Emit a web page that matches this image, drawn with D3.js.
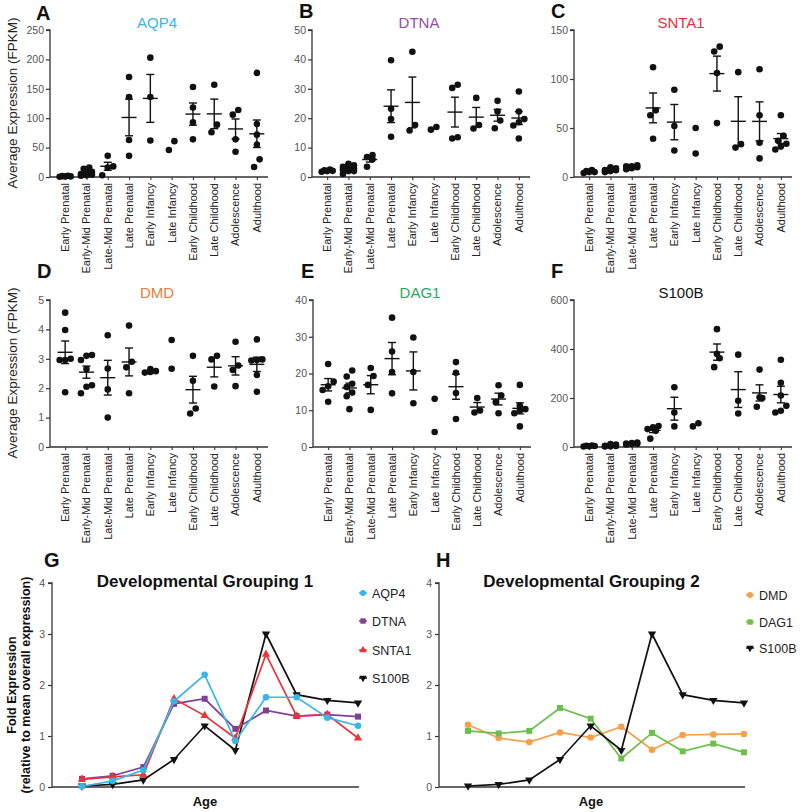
<!DOCTYPE html>
<html><head><meta charset="utf-8">
<script src="https://cdn.jsdelivr.net/npm/d3@7"></script>
<style>body{margin:0;background:#fff} svg{font-family:"Liberation Sans",Arial,sans-serif}</style>
</head><body><svg id="c" width="800" height="812"></svg>
<script>
// ---------- DATA ----------
const categories = ["Early Prenatal","Early-Mid Prenatal","Late-Mid Prenatal","Late Prenatal","Early Infancy","Late Infancy","Early Childhood","Late Childhood","Adolescence","Adulthood"];

const aqp4Values  = [[0.5,1,1.5,2,1],[2,3,4,5,7,9,14,16],[36,18,16,3],[170,136,63,36],[203,136,62],[46,61],[153,118,93,64],[157,89,76],[114,106,64,43],[177,90,72,55,30,17]];
const dtnaValues  = [[2.5,2,1.8,2.3,2.1],[1,2,2.5,3,3.5,4,4.5,3,2,4],[7.5,6.8,6,3.5],[39.7,23.2,19.7,13.7],[42.6,17.7,15.8],[16.1,17],[31.4,30.3,13.1,13.5],[26.9,17.7,16.5],[25.9,22.3,19.2,16.6],[29.1,22.3,19.7,18.6,17.5,13.1]];
const snta1Values = [[7,5,4,6,5],[9,7,6,8,5,10,7],[12,10,11,9,8,11],[112,68,63,39],[89,52,27],[50,24],[128,133,106,55],[107,30,33.5],[110,63,35,19],[63,42,37,34,31,28]];
const dmdValues   = [[4.57,3.98,3.0,2.96,2.96,1.86],[3.13,3.1,2.96,2.65,2.1,2.05,1.83],[3.8,2.67,1.96,1.0],[4.13,2.9,2.71,1.83],[2.65,2.58,2.53,2.55],[3.64,2.66],[3.1,2.25,1.31,1.14],[3.1,2.98,2.06],[3.58,2.77,2.62,2.07],[3.66,2.98,2.96,2.94,2.45,1.88]];
const dag1Values  = [[22.6,17.8,16.5,15.5,12.3],[20.8,19.2,17.2,16.3,14.8,13.8,10.3],[21.5,19.3,16.9,10.1],[35.2,26,20.4,14.6],[29.8,20.4,11.9],[13.1,4.1],[23.1,20.2,14.7,7.6],[13.3,9.4,9.9],[16.8,14.0,12.2,9.2],[16.9,11.2,10.3,9.9,9.2,5.6]];
const s100bValues = [[3,5,2,4,6],[10,5,3,8,2,12,4],[10,14,13,16,18,12],[86,80,73,66,34],[244,141,84],[84,97],[481,380,362,326],[377,189,137],[316,203,200,164],[356,262,210,168,141,148]];

const ticksA = [0,50,100,150,200,250];
const ticksB = [0,10,20,30,40,50];
const ticksC = [0,50,100,150];
const ticksD = [0,1,2,3,4,5];
const ticksE = [0,10,20,30,40];
const ticksF = [0,200,400,600];
const ticksFold = [0,1,2,3,4];

const foldAQP4  = [0.01,0.12,0.33,1.68,2.2,0.9,1.76,1.76,1.36,1.2];
const foldDTNA  = [0.16,0.22,0.39,1.63,1.73,1.14,1.5,1.39,1.42,1.38];
const foldSNTA1 = [0.15,0.2,0.24,1.73,1.4,0.96,2.6,1.39,1.42,0.96];
const foldS100B = [0.02,0.05,0.14,0.54,1.2,0.72,3.0,1.81,1.7,1.65];
const foldDMD   = [1.22,0.96,0.88,1.07,0.97,1.18,0.73,1.02,1.03,1.04];
const foldDAG1  = [1.1,1.05,1.1,1.55,1.34,0.56,1.06,0.7,0.85,0.68];

// ---------- DRAW ----------
const svg = d3.select("#c");
const AX = "#333", TICKTXT = "#555";

const panels = [
  {L:"A", gene:"AQP4",  color:"#3cb4e2", vals:aqp4Values,  ticks:ticksA, ax:50,  top:30,  bot:177, lx:36,  ly:20},
  {L:"B", gene:"DTNA",  color:"#8e4fa6", vals:dtnaValues,  ticks:ticksB, ax:312, top:30,  bot:177, lx:299, ly:18},
  {L:"C", gene:"SNTA1", color:"#e2323f", vals:snta1Values, ticks:ticksC, ax:574, top:30,  bot:177, lx:551, ly:18},
  {L:"D", gene:"DMD",   color:"#ee7b3b", vals:dmdValues,   ticks:ticksD, ax:50,  top:300, bot:447, lx:37,  ly:278},
  {L:"E", gene:"DAG1",  color:"#2aa862", vals:dag1Values,  ticks:ticksE, ax:313, top:300, bot:447, lx:301, ly:278},
  {L:"F", gene:"S100B", color:"#111",    vals:s100bValues, ticks:ticksF, ax:574, top:300, bot:447, lx:551, ly:278}
];

function swarm(vals, y, cx) {
  const step = 5.5, thr = 9, maxRow = 3;
  const idx = vals.map((v,i)=>i).sort((a,b)=>vals[a]-vals[b]);
  const pos = new Array(vals.length);
  let row = [];
  const flush = () => { const n=row.length; row.forEach((i,k)=>{pos[i]=[cx+(k-(n-1)/2)*step, y(vals[i])];}); row=[]; };
  idx.forEach(i => {
    if (row.length && (Math.abs(y(vals[i])-y(vals[row[0]]))>thr || row.length>=maxRow)) flush();
    row.push(i);
  });
  flush();
  return pos;
}

panels.forEach(p => {
  const g = svg.append("g");
  const x = d3.scalePoint().domain(categories).range([p.ax+4.5+10.65, p.ax+4.5+213-10.65]);
  const y = d3.scaleLinear().domain([0, d3.max(p.ticks)]).range([p.bot, p.top]);
  const xEnd = p.ax + 218;

  const ya = g.append("g").attr("transform",`translate(${p.ax},0)`)
    .call(d3.axisLeft(y).tickValues(p.ticks).tickSize(4).tickPadding(2).tickFormat(d3.format("d")));
  ya.select(".domain").attr("stroke",AX).attr("stroke-width",1.3).attr("d",`M-4,${p.top}H0V${p.bot}`);
  ya.selectAll(".tick line").attr("stroke",AX).attr("stroke-width",1.2);
  ya.selectAll(".tick text").attr("fill",TICKTXT).style("font-size","10.5px").style("font-family","Liberation Sans, Arial, sans-serif");

  const xa = g.append("g").attr("transform",`translate(0,${p.bot})`)
    .call(d3.axisBottom(x).tickSize(3).tickFormat(""));
  xa.select(".domain").attr("stroke",AX).attr("stroke-width",1.3).attr("d",`M${p.ax},0H${xEnd}`);
  xa.selectAll(".tick line").attr("stroke",AX).attr("stroke-width",1.1);
  categories.forEach(c => {
    g.append("text").attr("transform",`translate(${x(c)},${p.bot+6}) rotate(-90)`)
      .attr("text-anchor","end").attr("dy","0.35em").attr("fill","#222")
      .style("font-size","11px").text(c);
  });

  p.vals.forEach((vals, ci) => {
    const cx = x(categories[ci]);
    const pos = swarm(vals, y, cx);
    g.selectAll(null).data(pos).enter().append("circle")
      .attr("cx",d=>d[0]).attr("cy",d=>d[1]).attr("r",3.3).attr("fill","#111");
    if (vals.length >= 3) {
      const m = d3.mean(vals), sem = d3.deviation(vals)/Math.sqrt(vals.length);
      const eb = g.append("g").attr("stroke","#111").attr("stroke-width",1.4);
      eb.append("line").attr("x1",cx).attr("x2",cx).attr("y1",y(m-sem)).attr("y2",y(m+sem));
      eb.append("line").attr("x1",cx-4).attr("x2",cx+4).attr("y1",y(m-sem)).attr("y2",y(m-sem));
      eb.append("line").attr("x1",cx-4).attr("x2",cx+4).attr("y1",y(m+sem)).attr("y2",y(m+sem));
      eb.append("line").attr("x1",cx-7.5).attr("x2",cx+7.5).attr("y1",y(m)).attr("y2",y(m));
    }
  });

  g.append("text").attr("x",p.ax+107).attr("y",p.top-2).attr("text-anchor","middle")
    .attr("fill",p.color).style("font-size","15px").text(p.gene);
  g.append("text").attr("x",p.lx).attr("y",p.ly).attr("fill","#111")
    .style("font-size","20px").style("font-weight","bold").text(p.L);
});

[103, 373].forEach(cy => {
  svg.append("text").attr("transform",`translate(17,${cy}) rotate(-90)`).attr("text-anchor","middle")
    .attr("fill","#222").style("font-size","13.5px").text("Average Expression (FPKM)");
});

// ---------- LINE PANELS ----------
const linePanels = [
  {L:"G", title:"Developmental Grouping 1", ax:52, x0:82, x1:358, lx:44, legX:363,
   series:[
     {name:"S100B", vals:foldS100B, color:"#111", sym:"tri", flip:true},
     {name:"DTNA",  vals:foldDTNA,  color:"#7e3f98", sym:"sq"},
     {name:"SNTA1", vals:foldSNTA1, color:"#e8343b", sym:"tri"},
     {name:"AQP4",  vals:foldAQP4,  color:"#39b6e8", sym:"circ"}
   ], legendOrder:["AQP4","DTNA","SNTA1","S100B"], legY:[593,621,650,678]},
  {L:"H", title:"Developmental Grouping 2", ax:439, x0:468, x1:744, lx:436, legX:750,
   series:[
     {name:"DMD",   vals:foldDMD,   color:"#f4a04c", sym:"circ"},
     {name:"DAG1",  vals:foldDAG1,  color:"#6cbf4c", sym:"sq"},
     {name:"S100B", vals:foldS100B, color:"#111", sym:"tri", flip:true}
   ], legendOrder:["DMD","DAG1","S100B"], legY:[595,622,648]}
];

const symType = {circ:d3.symbolCircle, sq:d3.symbolSquare, tri:d3.symbolTriangle};
const symSize = {circ:34, sq:36, tri:30};

linePanels.forEach(p => {
  const g = svg.append("g");
  const top = 583, bot = 787;
  const x = d3.scalePoint().domain(categories).range([p.x0, p.x1]);
  const y = d3.scaleLinear().domain([0,4]).range([bot, top]);

  const ya = g.append("g").attr("transform",`translate(${p.ax},0)`)
    .call(d3.axisLeft(y).tickValues(ticksFold).tickSize(4).tickPadding(3).tickFormat(d3.format("d")));
  ya.select(".domain").attr("stroke",AX).attr("stroke-width",1.3).attr("d",`M-4,${top}H0V${bot}`);
  ya.selectAll(".tick line").attr("stroke",AX).attr("stroke-width",1.2);
  ya.selectAll(".tick text").attr("fill",TICKTXT).style("font-size","10.5px").style("font-family","Liberation Sans, Arial, sans-serif");
  g.append("line").attr("x1",p.ax).attr("x2",p.x1+1).attr("y1",bot).attr("y2",bot).attr("stroke",AX).attr("stroke-width",1.3);

  const line = d3.line().x((d,i)=>x(categories[i])).y(d=>y(d));
  p.series.forEach(s => {
    g.append("path").attr("d",line(s.vals)).attr("fill","none").attr("stroke",s.color).attr("stroke-width",1.7);
    g.selectAll(null).data(s.vals).enter().append("path")
      .attr("d",d3.symbol().type(symType[s.sym]).size(symSize[s.sym]))
      .attr("transform",(d,i)=>`translate(${x(categories[i])},${y(d)})${s.flip?" rotate(180)":""}`)
      .attr("fill",s.color);
  });

  p.legendOrder.forEach((name, k) => {
    const s = p.series.find(t=>t.name===name);
    const ly = p.legY[k];
    g.append("line").attr("x1",p.legX-4).attr("x2",p.legX+4).attr("y1",ly).attr("y2",ly).attr("stroke",s.color).attr("stroke-width",1.5);
    g.append("path").attr("d",d3.symbol().type(symType[s.sym]).size(symSize[s.sym]*0.8))
      .attr("transform",`translate(${p.legX},${ly})${s.flip?" rotate(180)":""}`).attr("fill",s.color);
    g.append("text").attr("x",p.legX+9).attr("y",ly).attr("dy","0.36em").attr("fill","#222")
      .style("font-size","12.5px").text(name);
  });

  g.append("text").attr("x",(p.ax+p.x1)/2).attr("y",587).attr("text-anchor","middle")
    .attr("fill","#111").style("font-size","17px").style("font-weight","bold").text(p.title);
  g.append("text").attr("x",(p.x0+p.x1)/2-15).attr("y",806).attr("text-anchor","middle")
    .attr("fill","#111").style("font-size","13px").style("font-weight","bold").text("Age");
  g.append("text").attr("x",p.lx).attr("y",567).attr("fill","#111")
    .style("font-size","20px").style("font-weight","bold").text(p.L);
});

svg.append("text").attr("transform","translate(16,685) rotate(-90)").attr("text-anchor","middle")
  .attr("fill","#111").style("font-size","12.5px").style("font-weight","bold").text("Fold Expression");
svg.append("text").attr("transform","translate(30,685) rotate(-90)").attr("text-anchor","middle")
  .attr("fill","#111").style("font-size","12.5px").style("font-weight","bold").text("(relative to mean overall expression)");
</script></body></html>
